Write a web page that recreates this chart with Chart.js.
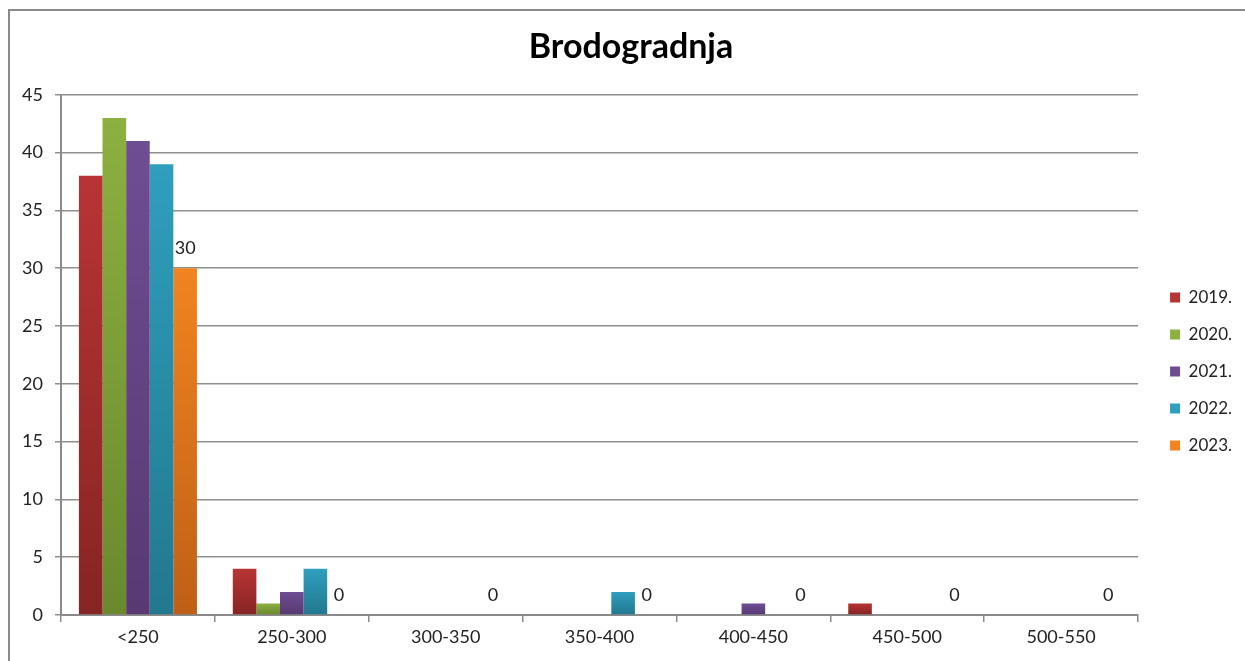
<!DOCTYPE html>
<html>
<head>
<meta charset="utf-8">
<script src="https://cdn.jsdelivr.net/npm/chart.js@4/dist/chart.umd.min.js"></script>
<style>
  html, body { margin: 0; padding: 0; background: #fff; }
  #wrap { width: 1245px; height: 661px; }
</style>
</head>
<body>
<div id="wrap"><canvas id="barChart"></canvas></div>
<script>
const categories = ['<250', '250-300', '300-350', '350-400', '400-450', '450-500', '500-550'];
const seriesNames = ['2019.', '2020.', '2021.', '2022.', '2023.'];
const values2019 = [38, 4, 0, 0, 0, 1, 0];
const values2020 = [43, 1, 0, 0, 0, 0, 0];
const values2021 = [41, 2, 0, 0, 1, 0, 0];
const values2022 = [39, 4, 0, 2, 0, 0, 0];
const values2023 = [30, 0, 0, 0, 0, 0, 0];
const yTicks = [0, 5, 10, 15, 20, 25, 30, 35, 40, 45];

const topColors = ['#b83434', '#8db041', '#6f4d94', '#2f9fbe', '#f1841f'];
const bottomColors = ['#872424', '#6a892d', '#583972', '#22788f', '#bf5f17'];
const labelledSeries = 4;

// outer frame like the excel chart border
const framePlugin = {
    id: 'frame',
    beforeDraw(chart) {
        const c = chart.ctx;
        c.save();
        c.strokeStyle = '#8a8a8a';
        c.lineWidth = 2;
        c.strokeRect(9, 10, 1260, 700);
        c.restore();
    }
};

// vertical gradient on every bar
const gradientPlugin = {
    id: 'barGradient',
    beforeDatasetsDraw(chart) {
        const c = chart.ctx;
        chart.data.datasets.forEach((ds, i) => {
            chart.getDatasetMeta(i).data.forEach(bar => {
                if (bar.base - bar.y < 1) return;
                const g = c.createLinearGradient(0, bar.y, 0, bar.base);
                g.addColorStop(0, topColors[i]);
                g.addColorStop(1, bottomColors[i]);
                bar.options.backgroundColor = g;
            });
        });
    }
};

// value labels for the last series only
const valueLabels = {
    id: 'valueLabels',
    afterDatasetsDraw(chart) {
        const c = chart.ctx;
        const meta = chart.getDatasetMeta(labelledSeries);
        const vals = chart.data.datasets[labelledSeries].data;
        c.save();
        c.font = '18px Lato';
        c.fillStyle = '#222';
        c.textAlign = 'center';
        c.textBaseline = 'middle';
        meta.data.forEach((bar, j) => {
            c.fillText(String(vals[j]), bar.x, bar.y - 20);
        });
        c.restore();
    }
};

const allValues = [values2019, values2020, values2021, values2022, values2023];

new Chart(document.getElementById('barChart'), {
    type: 'bar',
    data: {
        labels: categories,
        datasets: seriesNames.map((name, i) => ({
            label: name,
            data: allValues[i],
            backgroundColor: () => topColors[i],
            borderWidth: 0,
            categoryPercentage: 0.767,
            barPercentage: 1
        }))
    },
    options: {
        responsive: true,
        maintainAspectRatio: false,
        animation: false,
        layout: { padding: { top: 10, left: 20, right: 3, bottom: 0 } },
        plugins: {
            title: {
                display: true,
                text: 'Brodogradnja',
                color: '#000',
                font: { family: 'Lato', size: 34, weight: 'bold', lineHeight: 1.2 },
                padding: { top: 17, bottom: 27 }
            },
            legend: {
                position: 'right',
                align: 'center',
                title: { display: true, text: ' ', font: { size: 10, lineHeight: 1 }, padding: { top: 31, bottom: 31 } },
                labels: {
                    boxWidth: 10,
                    boxHeight: 10,
                    padding: 20,
                    color: '#222',
                    font: { family: 'Lato', size: 17 }
                }
            },
            tooltip: { enabled: false }
        },
        scales: {
            x: {
                grid: { display: true, drawOnChartArea: false, offset: true, tickLength: 7, color: '#8a8a8a', lineWidth: 1.5 },
                border: { color: '#8a8a8a', width: 2 },
                ticks: { color: '#222', font: { family: 'Lato', size: 18 }, padding: 4 },
                afterFit: s => { s.height = 46; }
            },
            y: {
                min: 0,
                max: 45,
                afterBuildTicks: s => { s.ticks = yTicks.map(v => ({ value: v })); },
                grid: { color: '#8f8f8f', lineWidth: 1.5, tickLength: 6 },
                border: { color: '#8a8a8a', width: 2 },
                ticks: { color: '#222', font: { family: 'Lato', size: 18 }, padding: 12 },
                afterFit: s => { s.width = 41; }
            },
            gap: {
                position: 'right',
                display: true,
                grid: { display: false },
                border: { display: false },
                ticks: { display: false },
                afterFit: s => { s.width = 12; }
            }
        }
    },
    plugins: [framePlugin, gradientPlugin, valueLabels]
});
</script>
</body>
</html>
